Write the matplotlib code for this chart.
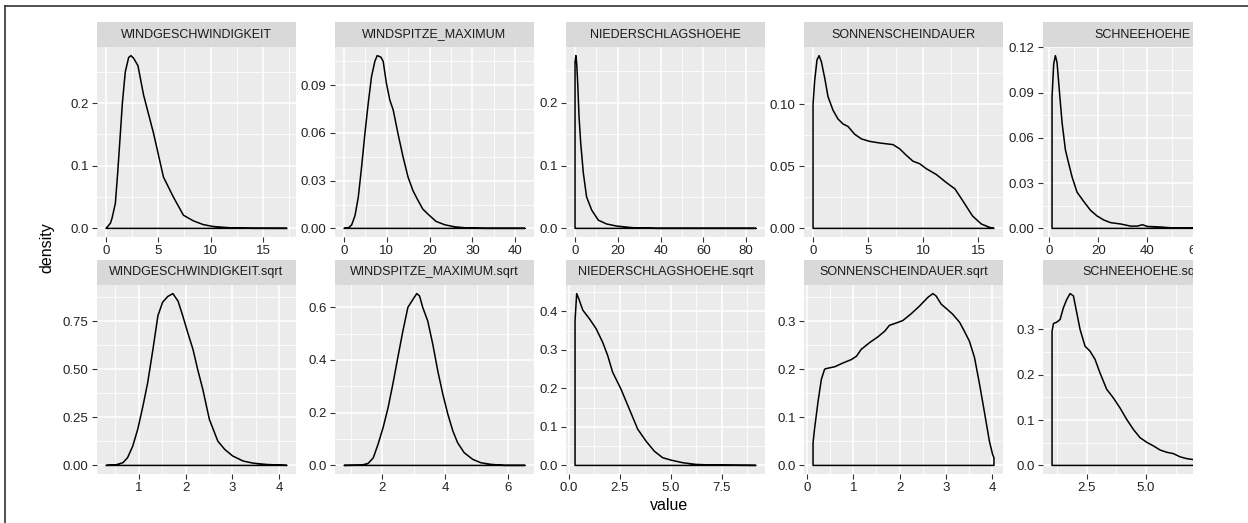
import matplotlib.pyplot as plt
from matplotlib.patches import Rectangle
from matplotlib.lines import Line2D
from matplotlib.ticker import MultipleLocator

plt.rcParams['font.family'] = ['Liberation Sans', 'DejaVu Sans']

# facet titles
names = [
    "WINDGESCHWINDIGKEIT", "WINDSPITZE_MAXIMUM", "NIEDERSCHLAGSHOEHE",
    "SONNENSCHEINDAUER", "SCHNEEHOEHE",
    "WINDGESCHWINDIGKEIT.sqrt", "WINDSPITZE_MAXIMUM.sqrt", "NIEDERSCHLAGSHOEHE.sqrt",
    "SONNENSCHEINDAUER.sqrt", "SCHNEEHOEHE.sqrt",
]

# density curves
wind_x = [0, 0.41, 0.57, 0.89, 1.11, 1.37, 1.56, 1.84, 2.16, 2.38, 2.63, 3.05, 3.59, 4.54,
          5.49, 6.44, 7.4, 8.35, 9.3, 10.25, 12.2, 14.0, 17.3]
wind_y = [0, 0.008, 0.016, 0.04, 0.088, 0.152, 0.2, 0.25, 0.273, 0.276, 0.272, 0.26, 0.213,
          0.152, 0.082, 0.05, 0.021, 0.012, 0.006, 0.003, 0.0005, 0.0001, 0]

spitze_x = [0, 1.0, 1.8, 2.56, 3.33, 4.1, 4.88, 5.66, 6.43, 7.2, 7.75, 8.6, 9.15, 9.9, 10.7,
            11.5, 12.6, 13.8, 14.96, 16.1, 17.3, 18.4, 19.6, 21.5, 23.5, 25.8, 28.9, 33.2, 42.3]
spitze_y = [0, 0.0002, 0.0023, 0.008, 0.0196, 0.0386, 0.0597, 0.0787, 0.0955, 0.105, 0.1086,
            0.1077, 0.105, 0.0913, 0.0807, 0.0744, 0.0597, 0.0449, 0.0323, 0.0238, 0.0175,
            0.0122, 0.009, 0.0044, 0.0023, 0.001, 0.0002, 0, 0]

nieder_x = [0, 0, 0.4, 0.78, 1.24, 1.86, 2.64, 3.88, 5.4, 7.8, 10.9, 14.75, 19.4, 27.2, 38, 84.6]
nieder_y = [0, 0.265, 0.275, 0.262, 0.231, 0.178, 0.136, 0.088, 0.05, 0.029, 0.013, 0.007,
            0.0037, 0.001, 0, 0]

sonne_x = [0, 0, 0.15, 0.36, 0.55, 0.76, 1.06, 1.36, 1.82, 2.27, 2.73, 3.18, 3.79, 4.4, 5.15,
           6.06, 7.27, 7.88, 8.48, 9.09, 9.7, 10.3, 11.2, 12.1, 12.9, 13.6, 14.5, 15.3, 16.06,
           16.45]
sonne_y = [0, 0.1, 0.119, 0.1356, 0.139, 0.134, 0.121, 0.106, 0.095, 0.088, 0.084, 0.082,
           0.0757, 0.072, 0.070, 0.0687, 0.0674, 0.064, 0.0588, 0.054, 0.052, 0.048, 0.0434,
           0.037, 0.0318, 0.0224, 0.010, 0.0035, 0.0008, 0]

schnee_x = [1.1, 1.1, 1.78, 2.46, 3.14, 4.2, 5.2, 6.56, 7.9, 9.3, 11.3, 14.1, 16.8, 19.5, 22.3,
            25, 29.1, 33.2, 35.9, 38, 40, 45.5, 51, 60, 75]
schnee_y = [0, 0.087, 0.109, 0.1145, 0.11, 0.089, 0.07, 0.052, 0.043, 0.034, 0.024, 0.0177,
            0.012, 0.0082, 0.0055, 0.0038, 0.0029, 0.0015, 0.0015, 0.0024, 0.0013, 0.0009,
            0.0002, 0.0001, 0]

wind_sqrt_x = [0.3, 0.51, 0.66, 0.76, 0.87, 0.98, 1.09, 1.19, 1.3, 1.41, 1.51, 1.62, 1.73,
               1.84, 1.94, 2.05, 2.16, 2.26, 2.37, 2.51, 2.69, 2.84, 3.01, 3.23, 3.44, 3.73,
               4.0, 4.17]
wind_sqrt_y = [0, 0.003, 0.014, 0.04, 0.1, 0.19, 0.31, 0.43, 0.6, 0.78, 0.85, 0.88, 0.895,
               0.856, 0.78, 0.69, 0.604, 0.5, 0.396, 0.24, 0.127, 0.083, 0.049, 0.023, 0.012,
               0.005, 0.002, 0]

spitze_sqrt_x = [0.78, 1.34, 1.55, 1.71, 1.86, 2.02, 2.18, 2.34, 2.49, 2.65, 2.81, 2.97, 3.09,
                 3.18, 3.28, 3.44, 3.6, 3.76, 3.92, 4.08, 4.24, 4.39, 4.6, 4.87, 5.13, 5.45,
                 5.87, 6.53]
spitze_sqrt_y = [0, 0.001, 0.008, 0.029, 0.08, 0.143, 0.219, 0.314, 0.41, 0.51, 0.6, 0.63,
                 0.652, 0.643, 0.6, 0.548, 0.46, 0.358, 0.27, 0.194, 0.13, 0.086, 0.048, 0.023,
                 0.01, 0.004, 0, 0]

nieder_sqrt_x = [0.31, 0.31, 0.39, 0.49, 0.69, 1.01, 1.34, 1.66, 1.91, 2.15, 2.56, 2.97, 3.38,
                 3.78, 4.19, 4.6, 5.0, 5.58, 6.23, 7.05, 9.17]
nieder_sqrt_y = [0, 0.376, 0.446, 0.433, 0.403, 0.381, 0.355, 0.32, 0.285, 0.242, 0.198, 0.146,
                 0.094, 0.0635, 0.037, 0.02, 0.0139, 0.007, 0.0026, 0.0009, 0]

sonne_sqrt_x = [0.13, 0.13, 0.165, 0.24, 0.31, 0.38, 0.45, 0.6, 0.78, 0.96, 1.07, 1.17, 1.35,
                1.53, 1.68, 1.78, 1.93, 2.07, 2.25, 2.43, 2.61, 2.72, 2.79, 2.9, 3.01, 3.15,
                3.3, 3.4, 3.51, 3.62, 3.73, 3.83, 3.94, 4.01, 4.04, 4.04]
sonne_sqrt_y = [0, 0.047, 0.078, 0.134, 0.179, 0.2, 0.202, 0.205, 0.213, 0.22, 0.227, 0.241,
                0.255, 0.267, 0.279, 0.291, 0.296, 0.301, 0.315, 0.331, 0.349, 0.357, 0.352,
                0.335, 0.326, 0.314, 0.297, 0.279, 0.258, 0.224, 0.168, 0.113, 0.051, 0.023,
                0.016, 0]

schnee_sqrt_x = [1.04, 1.04, 1.1, 1.24, 1.38, 1.52, 1.66, 1.8, 1.94, 2.08, 2.22, 2.43, 2.64,
                 2.85, 3.06, 3.34, 3.62, 3.9, 4.19, 4.47, 4.75, 5.03, 5.31, 5.59, 5.87, 6.15,
                 6.43, 6.71, 6.97, 7.5, 8.0, 8.66]
schnee_sqrt_y = [0, 0.296, 0.313, 0.316, 0.322, 0.348, 0.366, 0.379, 0.374, 0.337, 0.3, 0.263,
                 0.252, 0.234, 0.204, 0.168, 0.149, 0.127, 0.101, 0.079, 0.061, 0.051, 0.043,
                 0.034, 0.029, 0.026, 0.019, 0.015, 0.013, 0.008, 0.004, 0]

curves_x = [wind_x, spitze_x, nieder_x, sonne_x, schnee_x,
            wind_sqrt_x, spitze_sqrt_x, nieder_sqrt_x, sonne_sqrt_x, schnee_sqrt_x]
curves_y = [wind_y, spitze_y, nieder_y, sonne_y, schnee_y,
            wind_sqrt_y, spitze_sqrt_y, nieder_sqrt_y, sonne_sqrt_y, schnee_sqrt_y]

x_ticks = [[0, 5, 10, 15], [0, 10, 20, 30, 40], [0, 20, 40, 60, 80], [0, 5, 10, 15],
           [0, 20, 40, 60],
           [1, 2, 3, 4], [2, 4, 6], [0, 2.5, 5, 7.5], [0, 1, 2, 3, 4], [2.5, 5, 7.5]]
x_labels = [["0", "5", "10", "15"], ["0", "10", "20", "30", "40"],
            ["0", "20", "40", "60", "80"], ["0", "5", "10", "15"], ["0", "20", "40", "60"],
            ["1", "2", "3", "4"], ["2", "4", "6"], ["0.0", "2.5", "5.0", "7.5"],
            ["0", "1", "2", "3", "4"], ["2.5", "5.0", "7.5"]]
y_ticks = [[0, 0.1, 0.2], [0, 0.03, 0.06, 0.09], [0, 0.1, 0.2], [0, 0.05, 0.10],
           [0, 0.03, 0.06, 0.09, 0.12],
           [0, 0.25, 0.5, 0.75], [0, 0.2, 0.4, 0.6], [0, 0.1, 0.2, 0.3, 0.4],
           [0, 0.1, 0.2, 0.3], [0, 0.1, 0.2, 0.3]]
y_labels = [["0.0", "0.1", "0.2"], ["0.00", "0.03", "0.06", "0.09"], ["0.0", "0.1", "0.2"],
            ["0.00", "0.05", "0.10"], ["0.00", "0.03", "0.06", "0.09", "0.12"],
            ["0.00", "0.25", "0.50", "0.75"], ["0.0", "0.2", "0.4", "0.6"],
            ["0.0", "0.1", "0.2", "0.3", "0.4"], ["0.0", "0.1", "0.2", "0.3"],
            ["0.0", "0.1", "0.2", "0.3"]]

W, H = 1248, 523
fig = plt.figure(figsize=(W / 100, H / 100), dpi=100)

col_left = [97, 335, 566, 804, 1043]
panel_w = 199
rows = [(22, 47, 237), (260, 285, 474)]  # strip top, panel top, panel bottom


def fbox(x0, y0, x1, y1):
    return [x0 / W, 1 - y1 / H, (x1 - x0) / W, (y1 - y0) / H]


for i, name in enumerate(names):
    r, c = divmod(i, 5)
    st, pt, pb = rows[r]
    x0 = col_left[c]
    ax = fig.add_axes(fbox(x0, pt, x0 + panel_w, pb))
    ax.set_facecolor('#EBEBEB')
    for s in ax.spines.values():
        s.set_visible(False)
    ax.fill(curves_x[i], curves_y[i], facecolor='none', edgecolor='black', lw=1.1,
            joinstyle='round', zorder=3)
    ax.margins(0.05)
    ax.set_xticks(x_ticks[i])
    ax.set_xticklabels(x_labels[i])
    ax.set_yticks(y_ticks[i])
    ax.set_yticklabels(y_labels[i])
    xt, yt = x_ticks[i], y_ticks[i]
    ax.xaxis.set_minor_locator(MultipleLocator((xt[1] - xt[0]) / 2))
    ax.yaxis.set_minor_locator(MultipleLocator((yt[1] - yt[0]) / 2))
    ax.grid(which='major', color='white', lw=1.1)
    ax.grid(which='minor', color='white', lw=0.55)
    ax.set_axisbelow(True)
    ax.tick_params(which='major', length=3.5, width=0.8, color='#333333',
                   labelsize=9.5, labelcolor='#222222', pad=2.5)
    ax.tick_params(which='minor', length=0)

    sax = fig.add_axes(fbox(x0, st, x0 + panel_w, pt))
    sax.set_facecolor('#D9D9D9')
    sax.set_xticks([])
    sax.set_yticks([])
    for s in sax.spines.values():
        s.set_visible(False)
    sax.text(0.5, 0.5, name, ha='center', va='center', fontsize=9.0, color='#1A1A1A',
             transform=sax.transAxes)

fig.text(669 / W, 1 - 505 / H, "value", ha='center', va='center', fontsize=11.5)
fig.text(47 / W, 1 - 248 / H, "density", ha='center', va='center', fontsize=11.5,
         rotation=90)

# the picture is cut off on the right
fig.patches.append(Rectangle((1193 / W, 0), 1 - 1193 / W, 1, transform=fig.transFigure,
                             facecolor='white', edgecolor='none', zorder=10))
fig.lines.append(Line2D([4.5 / W, 1], [1 - 6 / H, 1 - 6 / H], transform=fig.transFigure,
                        color='#333333', lw=1.2, zorder=11))
fig.lines.append(Line2D([4.5 / W, 4.5 / W], [0, 1 - 6 / H], transform=fig.transFigure,
                        color='#333333', lw=1.2, zorder=11))

fig.savefig("out.png", dpi=100)
